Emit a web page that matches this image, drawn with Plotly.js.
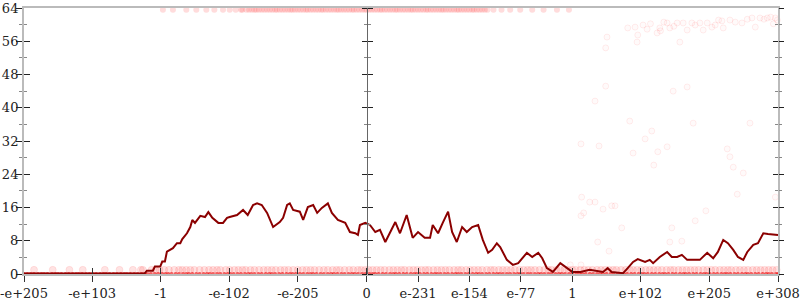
<!DOCTYPE html>
<html><head><meta charset="utf-8">
<script src="https://cdn.plot.ly/plotly-3.0.1.min.js"></script>
<style>html,body{margin:0;padding:0;background:#fff}#chart{width:800px;height:300px}</style>
</head><body><div id="chart"></div>
<script>
// x positions are in "float bit-pattern" units: 0 -> 0, 1 -> 308, e+308 -> 616
const tickPositions = [-513,-411,-308,-206,-103,0,77,154,231,308,410,513,616];
const tickLabels = ['-e+205','-e+103','-1','-e-102','-e-205','0','e-231','e-154','e-77','1','e+102','e+205','e+308'];

const lineX = [-513,-354,-332,-329,-320,-317,-309,-306,-302,-299,
  -290,-284,-279,-276,-269,-264,-261,-257,-249,-242,
  -237,-231,-222,-215,-209,-205,-194,-185,-178,-170,
  -164,-157,-149,-140,-130,-125,-119,-115,-110,-100,
  -95,-88,-80,-74,-67,-58,-52,-43,-32,-25,
  -17,-13,-10,-2,5,13,20,28,35,43,
  50,60,69,77,87,95,99,107,114,122,
  128,135,143,150,158,167,174,182,188,195,
  200,210,219,227,240,248,257,263,270,279,
  290,300,308,320,334,354,361,367,384,391,
  399,406,417,424,429,439,450,457,465,472,
  480,489,499,510,519,526,534,541,549,556,
  564,570,579,586,594,601,609,616];
const lineY = [0.1,0.2,0.2,0.8,0.8,1.8,1.8,3.0,3.0,5.4,
  6.2,7.4,7.4,8.4,9.8,11.3,13,12.3,14,13.7,
  14.9,13.5,12.3,12.3,13.5,13.7,14.2,15.4,14.2,16.6,
  17,16.6,14.7,11.3,12.5,13.5,16.6,17,15.4,15,
  13,16.1,16.6,14.7,15.9,17,14.7,13,12.3,10.1,
  9.8,9.4,11.8,12.3,11.8,10.1,10.6,7.7,9.8,12.5,
  9.8,14.2,8.7,10.1,8.7,8.7,11.8,9.8,12.3,15,
  10.1,7.7,11.3,10.1,11.3,11.8,8.2,5.1,5.8,7.4,
  6.5,3.4,2.2,2.6,5.1,4.1,5.1,3.8,1.4,0.5,
  2.6,1.4,0.5,0.5,1.0,0.5,1.4,0.5,0.2,1.4,
  2.9,3.6,2.9,3.4,2.6,4.1,5.3,4.1,4.1,4.6,
  3.4,3.4,3.4,5.1,3.8,5.3,8.2,7.4,5.8,4.1,
  3.4,5.3,7,7.4,9.8,9.6,9.4,9.4];

// faint sample points
const zeroBandY = 0;
const zeroBandX = [-513,-503,-492,-483,-471,-462,-451,-440,-431,-420,-410,-399,-390,-379,-368,-359,-348,-337,-328,-317,-306,-297,-286,-275,-266,-255,-244,-235,-224,-213,-204,-193,-182,-173,-162,-151,-142,-131,-120,-111,-100,-89,-80,-69,-58,-49,-38,-27,-18,-7,4,13,24,35,44,55,66,75,86,97,106,117,128,137,148,159,168,179,190,199,210,221,230,241,252,261,272,283,292,303,314,323,334,345,354,365,376,385,396,407,416,427,438,447,458,469,478,489,500,509,520,531,540,551,562,571,582,593,602,613,
  -508,-498,-487,-478,-466,-457,-446,-435,-426,-415,-405,-394,-385,-374,-363,-354,-343,-332,-323,-312,-301,-292,-281,-270,-261,-250,-239,-230,-219,-208,-199,-188,-177,-168,-157,-146,-137,-126,-115,-106,-95,-84,-75,-64,-53,-44,-33,-22,-13,-2,9,18,29,40,49,60,71,80,91,102,111,122,133,142,153,164,173,184,195,204,215,226,235,246,257,266,277,288,297,308,319,328,339,350,359,370,381,390,401,412,421,432,443,452,463,474,483,494,505,514,525,536,545,556,567,576,587,598,607,616];
const oneBandY = 1;
const oneBandX = [-498,-470,-445,-425,-392,-370,-350,-338,-322,-310,-296,-281,-270,-258,-243,-230,-219,-205,-192,-181,-168,-154,-142,-129,-117,-103,-90,-78,-64,-51,-40,-26,-13,-2,9,21,34,46,57,70,82,93,106,118,131,142,155,167,180,191,204,216,229,241,252,266,277,290,302,313,326,338,351,363,374,388,399,411,424,436,449,460,473,485,497,510,522,535,546,559,571,584,596,608,
  -335,-316,-303,-288,-276,-264,-250,-236,-224,-211,-198,-186,-174,-161,-148,-136,-123,-110,-96,-84,-71,-58,-45,-33,-20,-8,3,15,27,40,52,64,76,88,100,112,124,137,149,161,173,186,198,210,222,235,246,259,272,284,296,308,320,332,345,357,369,381,394,405,418,430,442,455,467,479,491,504,516,529,541,553,565,578,590,602,614];
const topBandY = 63.6;
const topBandX = [-305,-290,-270,-255,-240,-228,-215,-205,-196,-188,-180,-172,-165,-157,-149,-141,-134,-126,-118,-111,-103,-95,-88,-80,-72,-65,-57,-49,-42,-34,-26,-19,-11,-3,4,12,20,27,35,43,50,58,66,73,81,89,96,104,112,119,127,135,142,150,158,165,173,181,190,202,215,230,248,265,285,303,
  -186,-176,-168,-161,-153,-145,-137,-130,-122,-114,-107,-99,-91,-84,-76,-68,-61,-53,-45,-38,-30,-22,-15,-7,0,8,16,23,31,39,46,54,62,69,77,85,92,100,108,115,123,131,138,146,154,161,169,177];
const sparseX = [391,402,405,406,414,420,435,439,450,454,465,469,474,480,487,499,504,510,517,532,534,544,562,577,582,589,600,609,612,425,445,460,492,522,527,552,570,595,605,615,440,
  360,358,358,342,459,480,394,489,574,427,417,321,348,450,540,436,399,544,430,549,564,555,322,334,342,367,372,354,508,325,321,492,382,457,346,454,472,363,612,305,321];
const sparseY = [59.2,59.4,55.8,57.5,59.9,58.9,58,59.2,60.4,59.2,60.4,55.8,60.4,58.7,60.4,60.4,58.7,60.4,59.4,60.9,59.2,61.1,60.4,61.6,59.4,61.6,61.6,60.2,61.6,60.2,60.6,59.6,59.9,59.9,61.1,60.6,61.3,61.3,61.8,61.1,58.5,
  57,54.4,45.2,41.6,44,45,36.8,36.3,36.3,34.4,32.5,31.3,30.8,30.6,30.1,29.4,29.1,28.2,26.2,25.7,24.3,19.2,18.5,17.3,17.3,16.4,16.4,15.6,15.2,14.7,14,12.8,11.1,11.1,7.7,7.7,7.9,5.5,18.5,2.2,2.2];

const axisFont = {family:'DejaVu Serif', size:13, color:'#222'};

const traces = [
  {x:oneBandX, y:oneBandX.map(()=>oneBandY), mode:'markers', marker:{color:'rgba(255,40,40,0.13)', size:7, line:{color:'rgba(255,0,0,0.08)', width:1}}, cliponaxis:false},
  {x:zeroBandX, y:zeroBandX.map(()=>zeroBandY), mode:'markers', marker:{color:'rgba(235,0,0,0.6)', size:4, line:{width:0}}, cliponaxis:false},
  {x:topBandX, y:topBandX.map(()=>topBandY), mode:'markers', marker:{color:'rgba(255,20,20,0.15)', size:6, line:{width:0}}, cliponaxis:false},
  {x:sparseX, y:sparseY, mode:'markers', marker:{color:'rgba(255,60,60,0.025)', size:6, line:{color:'rgba(255,0,0,0.07)', width:1}}, cliponaxis:false},
  {x:lineX, y:lineY, mode:'lines', line:{color:'#8b0000', width:2}},
  {x:[], y:[], xaxis:'x2', yaxis:'y'},
  {x:[], y:[], yaxis:'y2'},
  {x:[], y:[], yaxis:'y3'},
  {x:[], y:[], yaxis:'y4'},
  {x:[], y:[], yaxis:'y5'},
  {x:[], y:[], yaxis:'y6'}
];
traces.forEach(t=>{t.type='scatter'; t.showlegend=false; t.hoverinfo='skip';});

const xr = [-513, 616];
const yBase = {range:[0,64], tick0:0, dtick:8, showgrid:false, zeroline:false, fixedrange:true, tickcolor:'#222', tickwidth:1};
const minorOut = {ticks:'outside', ticklen:3, dtick:4, tick0:0, tickcolor:'#888'};
const minorIn = {ticks:'inside', ticklen:3, dtick:4, tick0:0, tickcolor:'#888'};
const midPos = 513/1129;

const layout = {
  width:800, height:300,
  margin:{l:24, r:22, t:8, b:26},
  paper_bgcolor:'#fff', plot_bgcolor:'#fff',
  showlegend:false, hovermode:false,
  xaxis:{range:xr, tickmode:'array', tickvals:tickPositions, ticktext:tickLabels, ticks:'outside', ticklen:6, tickcolor:'#333',
    showline:true, linecolor:'#bbb', linewidth:2, mirror:true, showgrid:false, zeroline:false, tickfont:axisFont, fixedrange:true},
  xaxis2:{range:xr, overlaying:'x', anchor:'y', tickmode:'array', tickvals:tickPositions, ticks:'inside', ticklen:6, tickcolor:'#333',
    showticklabels:false, showline:false, showgrid:false, zeroline:false, fixedrange:true},
  yaxis:Object.assign({}, yBase, {ticks:'outside', ticklen:6, minor:minorOut, showline:true, linecolor:'#bbb', linewidth:2, mirror:true, tickfont:axisFont, ticklabelstandoff:-5}),
  yaxis2:Object.assign({}, yBase, {overlaying:'y', anchor:'x', side:'left', ticks:'inside', ticklen:6, minor:minorIn, showticklabels:false, showline:false}),
  yaxis3:Object.assign({}, yBase, {overlaying:'y', anchor:'x', side:'right', ticks:'outside', ticklen:5, minor:minorOut, showticklabels:false, showline:false}),
  yaxis4:Object.assign({}, yBase, {overlaying:'y', anchor:'x', side:'right', ticks:'inside', ticklen:5, minor:minorIn, showticklabels:false, showline:false}),
  yaxis5:Object.assign({}, yBase, {overlaying:'y', anchor:'free', position:midPos, side:'left', ticks:'outside', ticklen:5, minor:minorOut, showticklabels:false, showline:true, linecolor:'#666', linewidth:1}),
  yaxis6:Object.assign({}, yBase, {overlaying:'y', anchor:'free', position:midPos, side:'right', ticks:'outside', ticklen:5, minor:minorOut, showticklabels:false, showline:false})
};

Plotly.newPlot('chart', traces, layout, {staticPlot:true, displayModeBar:false});
</script>
</body></html>
